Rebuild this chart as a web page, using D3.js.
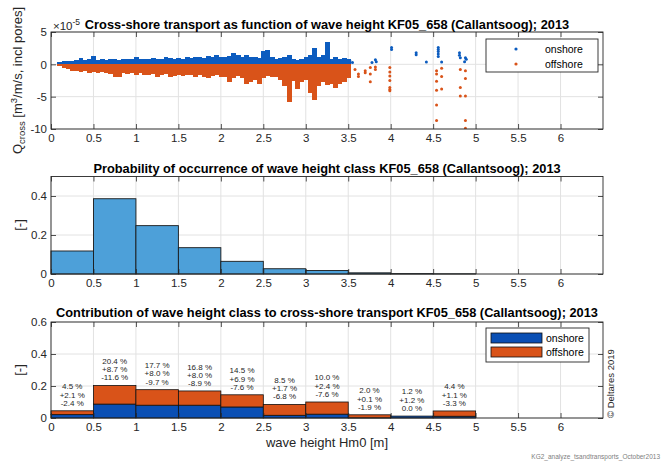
<!DOCTYPE html>
<html>
<head>
<meta charset="utf-8">
<script src="https://cdn.jsdelivr.net/npm/d3@7"></script>
<style>
  body { margin: 0; background: #fff; }
  svg { font-family: "Liberation Sans", Arial, sans-serif; }
</style>
</head>
<body>
<div id="chart"></div>
<script>
// wave height ticks
const xTicks = [0, 0.5, 1, 1.5, 2, 2.5, 3, 3.5, 4, 4.5, 5, 5.5, 6];
const xTickLabels = ["0", "0.5", "1", "1.5", "2", "2.5", "3", "3.5", "4", "4.5", "5", "5.5", "6"];

// panel 1: dense band, per wave-height column (units 1e-5 m3/m/s)
const bandH = [0.10, 0.15, 0.20, 0.25, 0.30, 0.35, 0.40, 0.45, 0.50, 0.55, 0.60, 0.65, 0.70, 0.75, 0.80, 0.85, 0.90, 0.95,
  1.00, 1.05, 1.10, 1.15, 1.20, 1.25, 1.30, 1.35, 1.40, 1.45, 1.50, 1.55, 1.60, 1.65, 1.70, 1.75, 1.80, 1.85, 1.90, 1.95,
  2.00, 2.05, 2.10, 2.15, 2.20, 2.25, 2.30, 2.35, 2.40, 2.45, 2.50, 2.55, 2.60, 2.65, 2.70, 2.75, 2.80, 2.85, 2.90, 2.95,
  3.00, 3.05, 3.10, 3.15, 3.20, 3.25, 3.30, 3.35, 3.40, 3.45, 3.50];
const bandOnshore = [0.2, 0.3, 0.4, 0.4, 0.5, 0.8, 0.5, 0.6, 1.1, 0.5, 0.6, 0.5, 0.7, 0.6, 0.5, 0.6, 0.7, 0.6,
  0.9, 0.6, 0.7, 0.6, 0.8, 0.6, 0.7, 0.9, 0.8, 0.7, 0.8, 0.7, 1.0, 0.8, 0.9, 1.0, 0.8, 1.1, 0.9, 1.2,
  0.9, 1.0, 1.1, 1.5, 1.3, 1.0, 1.2, 0.9, 1.0, 0.8, 1.8, 2.0, 0.9, 0.6, 0.8, 1.0, 1.3, 0.7, 0.5, 0.6,
  1.0, 1.3, 2.4, 1.0, 1.2, 3.3, 0.6, 0.9, 0.7, 0.8, 0.6];
const bandOffshore = [-0.1, -0.4, -0.6, -0.8, -0.9, -1.0, -0.9, -1.1, -1.0, -1.2, -1.0, -1.1, -1.3, -1.8, -1.7, -1.2, -1.3, -1.1,
  -1.4, -1.2, -1.5, -1.4, -1.3, -1.8, -1.5, -1.3, -1.7, -1.6, -1.4, -1.6, -1.5, -1.4, -1.8, -1.5, -1.7, -2.0, -1.6, -1.5,
  -1.8, -1.7, -2.6, -1.9, -1.6, -2.0, -2.8, -2.6, -2.2, -2.9, -1.9, -1.6, -1.8, -1.7, -2.3, -3.1, -5.6, -2.4, -3.7, -2.6,
  -2.2, -4.3, -5.3, -3.2, -2.5, -3.0, -2.8, -3.4, -2.9, -2.6, -2.0];

// panel 1: isolated points at higher waves
const onshoreH = [3.52, 3.55, 3.78, 3.82, 3.83, 4.01, 4.01, 4.30, 4.30, 4.42, 4.56, 4.56, 4.56, 4.56, 4.56, 4.60, 4.81, 4.81, 4.82, 4.88, 4.89, 4.87];
const onshoreQ = [0.5, 0.3, 0.3, 0.7, 0.4, 2.6, 2.3, 1.8, 1.5, 0.35, 2.6, 2.3, 2.0, 1.6, 1.2, 0.35, 1.8, 1.4, 1.0, 1.0, 0.8, 0.4];
const offshoreH = [3.58, 3.62, 3.62, 3.70, 3.70, 3.76, 3.76, 3.76, 3.82, 3.82, 3.99, 3.99, 3.99, 3.99, 3.99, 3.99, 3.99,
  4.54, 4.54, 4.54, 4.54, 4.54, 4.54, 4.60, 4.60, 4.60, 4.82, 4.82, 4.82, 4.88, 4.88, 4.88, 4.88, 4.88];
const offshoreQ = [-0.8, -1.5, -1.9, -1.0, -1.3, -0.5, -1.5, -2.7, -0.4, -0.8, -0.5, -1.2, -1.8, -2.5, -3.6, -3.9, -4.1,
  -1.0, -1.5, -2.6, -4.0, -6.3, -8.7, -0.6, -1.9, -3.8, -0.8, -3.6, -4.9, -1.0, -2.2, -4.9, -8.7, -9.9];

// panel 2 + 3: wave height classes
const classStart = [0, 0.5, 1, 1.5, 2, 2.5, 3, 3.5, 4, 4.5];
const probability = [0.118, 0.386, 0.248, 0.135, 0.065, 0.027, 0.018, 0.006, 0.002, 0.001];
const contribTotal = [4.5, 20.4, 17.7, 16.8, 14.5, 8.5, 10.0, 2.0, 1.2, 4.4];
const contribOnshore = [2.1, 8.7, 8.0, 8.0, 6.9, 1.7, 2.4, 0.1, 1.2, 1.1];
const contribOffshore = [2.4, 11.6, 9.7, 8.9, 7.6, 6.8, 7.6, 1.9, 0.0, 3.3];

const w = 661, h = 466;
const ink = "#262626";
const blueDot = "#0c5cbf", blueBar = "#0a4fb4", orange = "#d95319", histBlue = "#4da0d9";

const svg = d3.select("#chart").append("svg").attr("width", w).attr("height", h);

const x = d3.scaleLinear().domain([0, 6.5]).range([51, 603]);
const classW = 0.5;

function drawGrid(y, yTicks) {
  const g = svg.append("g");
  g.selectAll("line.vx").data(xTicks).enter().append("line")
    .attr("x1", d => x(d)).attr("x2", d => x(d))
    .attr("y1", y.range()[0]).attr("y2", y.range()[1])
    .attr("stroke", "#e2e2e2").attr("stroke-width", 1);
  g.selectAll("line.hy").data(yTicks).enter().append("line")
    .attr("y1", d => y(d)).attr("y2", d => y(d))
    .attr("x1", x.range()[0]).attr("x2", x.range()[1])
    .attr("stroke", "#e2e2e2").attr("stroke-width", 1);
}

function drawFrame(y, yTicks, yTickLabels) {
  const [y0, y1] = y.range();
  const bottom = svg.append("g").attr("transform", `translate(0,${y0})`)
    .call(d3.axisBottom(x).tickValues(xTicks).tickFormat((d, i) => xTickLabels[i]).tickSize(-5).tickPadding(5));
  const top = svg.append("g").attr("transform", `translate(0,${y1})`)
    .call(d3.axisTop(x).tickValues(xTicks).tickFormat("").tickSize(-5));
  const left = svg.append("g").attr("transform", `translate(${x.range()[0]},0)`)
    .call(d3.axisLeft(y).tickValues(yTicks).tickFormat((d, i) => yTickLabels[i]).tickSize(-5).tickPadding(4));
  const right = svg.append("g").attr("transform", `translate(${x.range()[1]},0)`)
    .call(d3.axisRight(y).tickValues(yTicks).tickFormat("").tickSize(-5));
  [bottom, top, left, right].forEach(a => {
    a.select(".domain").remove();
    a.selectAll("line").attr("stroke", ink).attr("stroke-width", 0.8);
    a.selectAll("text").attr("fill", ink).style("font-size", "11.5px").style("font-family", "Liberation Sans, Arial, sans-serif");
  });
  svg.append("rect")
    .attr("x", x.range()[0]).attr("y", y1)
    .attr("width", x.range()[1] - x.range()[0]).attr("height", y0 - y1)
    .attr("fill", "none").attr("stroke", ink).attr("stroke-width", 0.9);
}

function title(txt, yPos) {
  svg.append("text").attr("x", 327).attr("y", yPos).attr("text-anchor", "middle")
    .style("font-size", "12.8px").style("font-weight", "bold").attr("fill", "#000").text(txt);
}

// ---------- panel 1 ----------
const y1 = d3.scaleLinear().domain([-10, 5]).range([129, 32]);
drawGrid(y1, [-10, -5, 0, 5]);

svg.append("clipPath").attr("id", "clip1").append("rect")
  .attr("x", 51).attr("y", 32).attr("width", 552).attr("height", 97);
const p1 = svg.append("g").attr("clip-path", "url(#clip1)");
const colW = x(0.05) - x(0);

p1.selectAll("rect.off").data(bandH).enter().append("rect")
  .attr("x", d => x(d) - colW / 2).attr("width", colW + 0.6)
  .attr("y", y1(0))
  .attr("height", (d, i) => y1(bandOffshore[i]) - y1(0) + 1.2)
  .attr("fill", orange).attr("shape-rendering", "crispEdges");
p1.selectAll("rect.on").data(bandH).enter().append("rect")
  .attr("x", d => x(d) - colW / 2).attr("width", colW + 0.6)
  .attr("y", (d, i) => y1(bandOnshore[i]) - 1.2)
  .attr("height", (d, i) => y1(0) - y1(bandOnshore[i]) + 1.2)
  .attr("fill", blueDot).attr("shape-rendering", "crispEdges");
p1.selectAll("circle.off").data(offshoreH).enter().append("circle")
  .attr("cx", d => x(d)).attr("cy", (d, i) => y1(offshoreQ[i])).attr("r", 1.5).attr("fill", orange);
p1.selectAll("circle.on").data(onshoreH).enter().append("circle")
  .attr("cx", d => x(d)).attr("cy", (d, i) => y1(onshoreQ[i])).attr("r", 1.5).attr("fill", blueDot);

drawFrame(y1, [-10, -5, 0, 5], ["-10", "-5", "0", "5"]);
title("Cross-shore transport as function of wave height KF05_658 (Callantsoog); 2013", 29);

const exp = svg.append("text").attr("x", 53).attr("y", 30).attr("fill", ink).style("font-size", "11.5px");
exp.append("tspan").text("\u00d710");
exp.append("tspan").attr("dy", -5).style("font-size", "8.5px").text("-5");

const ylab1 = svg.append("text").attr("transform", "translate(22,80.5) rotate(-90)")
  .attr("text-anchor", "middle").attr("fill", ink).style("font-size", "13px");
ylab1.append("tspan").text("Q");
ylab1.append("tspan").attr("dy", 3).style("font-size", "9.5px").text("cross");
ylab1.append("tspan").attr("dy", -3).text(" [m");
ylab1.append("tspan").attr("dy", -5).style("font-size", "9.5px").text("3");
ylab1.append("tspan").attr("dy", 5).text("/m/s, incl pores]");

// legend 1
const lg1 = svg.append("g");
lg1.append("rect").attr("x", 486).attr("y", 39).attr("width", 112).attr("height", 33)
  .attr("fill", "#fff").attr("stroke", ink).attr("stroke-width", 0.9);
lg1.append("circle").attr("cx", 516).attr("cy", 49).attr("r", 1.6).attr("fill", blueDot);
lg1.append("circle").attr("cx", 516).attr("cy", 64).attr("r", 1.6).attr("fill", orange);
lg1.append("text").attr("x", 545).attr("y", 53).attr("fill", "#000").style("font-size", "10.5px").text("onshore");
lg1.append("text").attr("x", 545).attr("y", 68).attr("fill", "#000").style("font-size", "10.5px").text("offshore");

// ---------- panel 2 ----------
const y2 = d3.scaleLinear().domain([0, 0.5]).range([274, 176.5]);
drawGrid(y2, [0, 0.2, 0.4]);
svg.append("g").selectAll("rect").data(classStart).enter().append("rect")
  .attr("x", d => x(d)).attr("width", x(classW) - x(0))
  .attr("y", (d, i) => y2(probability[i]))
  .attr("height", (d, i) => y2(0) - y2(probability[i]))
  .attr("fill", histBlue).attr("stroke", "#1a1a1a").attr("stroke-width", 0.9);
drawFrame(y2, [0, 0.2, 0.4], ["0", "0.2", "0.4"]);
title("Probability of occurrence of wave height class KF05_658 (Callantsoog); 2013", 173);
svg.append("text").attr("transform", "translate(24,225) rotate(-90)")
  .attr("text-anchor", "middle").attr("fill", ink).style("font-size", "13px").text("[-]");

// ---------- panel 3 ----------
const y3 = d3.scaleLinear().domain([0, 0.6]).range([418, 322]);
drawGrid(y3, [0, 0.2, 0.4, 0.6]);
const p3 = svg.append("g");
p3.selectAll("rect.on").data(classStart).enter().append("rect")
  .attr("x", d => x(d)).attr("width", x(classW) - x(0))
  .attr("y", (d, i) => y3(contribOnshore[i] / 100))
  .attr("height", (d, i) => y3(0) - y3(contribOnshore[i] / 100))
  .attr("fill", blueBar).attr("stroke", "#111").attr("stroke-width", 0.8);
p3.selectAll("rect.off").data(classStart).enter().append("rect")
  .attr("x", d => x(d)).attr("width", x(classW) - x(0))
  .attr("y", (d, i) => y3((contribOnshore[i] + contribOffshore[i]) / 100))
  .attr("height", (d, i) => y3(contribOnshore[i] / 100) - y3((contribOnshore[i] + contribOffshore[i]) / 100))
  .attr("fill", orange).attr("stroke", "#111").attr("stroke-width", 0.8);

const lineGap = 8.3;
const labs = p3.selectAll("text.lab").data(classStart).enter().append("text")
  .attr("text-anchor", "middle").attr("fill", ink).style("font-size", "8px")
  .attr("x", d => x(d + classW / 2))
  .attr("y", (d, i) => y3(contribTotal[i] / 100) - 5 - 2 * lineGap);
labs.append("tspan").attr("x", d => x(d + classW / 2)).text((d, i) => contribTotal[i].toFixed(1) + " %");
labs.append("tspan").attr("x", d => x(d + classW / 2)).attr("dy", lineGap).text((d, i) => "+" + contribOnshore[i].toFixed(1) + " %");
labs.append("tspan").attr("x", d => x(d + classW / 2)).attr("dy", lineGap)
  .text((d, i) => (contribOffshore[i] === 0 ? "" : "-") + contribOffshore[i].toFixed(1) + " %");

drawFrame(y3, [0, 0.2, 0.4, 0.6], ["0", "0.2", "0.4", "0.6"]);
title("Contribution of wave height class to cross-shore transport KF05_658 (Callantsoog); 2013", 317);
svg.append("text").attr("transform", "translate(24,370) rotate(-90)")
  .attr("text-anchor", "middle").attr("fill", ink).style("font-size", "13px").text("[-]");

// legend 3
const lg3 = svg.append("g");
lg3.append("rect").attr("x", 486).attr("y", 328).attr("width", 103).attr("height", 34)
  .attr("fill", "#fff").attr("stroke", ink).attr("stroke-width", 0.9);
lg3.append("rect").attr("x", 491).attr("y", 333).attr("width", 51).attr("height", 10)
  .attr("fill", blueBar).attr("stroke", "#111").attr("stroke-width", 0.8);
lg3.append("rect").attr("x", 491).attr("y", 347).attr("width", 51).attr("height", 10)
  .attr("fill", orange).attr("stroke", "#111").attr("stroke-width", 0.8);
lg3.append("text").attr("x", 546).attr("y", 342).attr("fill", "#000").style("font-size", "10.5px").text("onshore");
lg3.append("text").attr("x", 546).attr("y", 356).attr("fill", "#000").style("font-size", "10.5px").text("offshore");

svg.append("text").attr("x", 327).attr("y", 447).attr("text-anchor", "middle")
  .attr("fill", ink).style("font-size", "13px").text("wave height Hm0 [m]");

svg.append("text").attr("transform", "translate(614,418) rotate(-90)")
  .attr("fill", ink).style("font-size", "9.5px").text("\u00a9 Deltares 2019");

svg.append("text").attr("x", 660).attr("y", 459).attr("text-anchor", "end")
  .attr("fill", "#808080").style("font-size", "6.5px").text("KG2_analyze_tsandtransports_October2013");
</script>
</body>
</html>
